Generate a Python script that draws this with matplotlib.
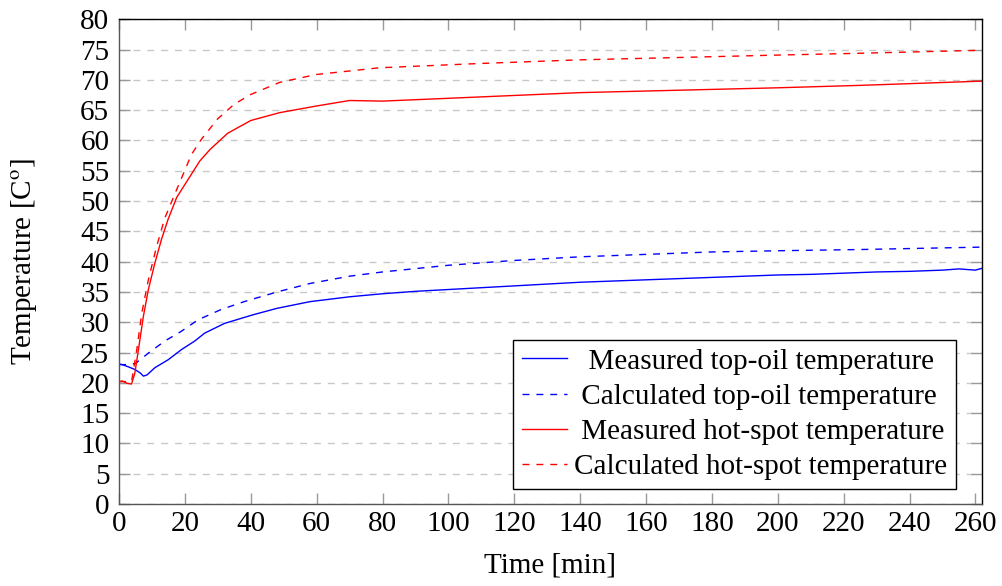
import numpy as np
import matplotlib.pyplot as plt

plt.rcParams['font.family'] = ['Liberation Serif', 'DejaVu Serif']
plt.rcParams['mathtext.fontset'] = 'stix'

# measured top-oil temperature
t_mto = [0, 1, 3, 4.8, 6.5, 7.4, 8.5, 10.9, 14.9, 19, 23, 26, 32, 40.5, 48, 58, 70, 80, 90, 100,
         110, 120, 130, 140, 150, 160, 170, 180, 190, 200, 210, 220, 230, 240, 250, 255, 260, 262]
T_mto = [23.1, 23.0, 22.6, 22.2, 21.6, 21.1, 21.3, 22.5, 23.8, 25.5, 26.9, 28.2, 29.8, 31.2, 32.3,
         33.4, 34.2, 34.7, 35.1, 35.4, 35.7, 36.0, 36.3, 36.6, 36.8, 37.0, 37.2, 37.4, 37.6, 37.8,
         37.9, 38.1, 38.3, 38.4, 38.6, 38.8, 38.6, 38.9]

# calculated top-oil temperature
t_cto = [0, 2.5, 5, 8.9, 13.9, 18.9, 24, 31, 38, 48, 58, 70, 80, 100, 120, 140, 160,
         180, 200, 225, 262]
T_cto = [23.0, 23.0, 23.2, 24.9, 26.9, 28.5, 30.4, 32.1, 33.4, 35.0, 36.4, 37.6, 38.3,
         39.4, 40.2, 40.8, 41.2, 41.6, 41.8, 42.0, 42.4]

# measured hot-spot temperature
t_mhs = [0, 1, 2.5, 3.8, 4.8, 5.9, 7.4, 8.9, 10.9, 12.9, 14.9, 17.5, 21, 24.5, 27.6, 33, 40,
         48.8, 60, 70, 80, 110, 140, 170, 200, 225, 262]
T_mhs = [20.2, 20.3, 19.9, 19.8, 21.6, 25.5, 31.0, 35.4, 39.8, 43.7, 47.0, 50.6, 53.6, 56.6,
         58.5, 61.2, 63.3, 64.6, 65.7, 66.6, 66.5, 67.2, 67.9, 68.3, 68.7, 69.1, 69.8]

# calculated hot-spot temperature
t_chs = [0, 3.8, 5.4, 6.9, 8.9, 11.4, 13.9, 17.5, 22, 25, 30, 35, 40, 48.8, 60, 79, 109, 139,
         170, 200, 225, 262]
T_chs = [20.2, 20.2, 25.5, 31.5, 37.0, 42.5, 47.2, 51.9, 57.7, 60.2, 63.6, 66.0, 67.6, 69.6,
         70.9, 72.0, 72.7, 73.3, 73.7, 74.1, 74.4, 74.9]

labels = ['Measured top-oil temperature', 'Calculated top-oil temperature',
          'Measured hot-spot temperature', 'Calculated hot-spot temperature']

fs = 21
fig = plt.figure(figsize=(10.02, 5.86), dpi=100)
ax = fig.add_axes([0.1188, 0.140, 0.8612, 0.827])

ax.plot(t_mto, T_mto, color='blue', lw=1.0, label=labels[0])
ax.plot(t_cto, T_cto, color='blue', lw=1.0, ls=(0, (5, 5)), label=labels[1])
ax.plot(t_mhs, T_mhs, color='red', lw=1.0, label=labels[2])
ax.plot(t_chs, T_chs, color='red', lw=1.0, ls=(0, (5, 5)), label=labels[3])

ax.set_xlim(0, 262)
ax.set_ylim(0, 80)
ax.set_xticks(np.arange(0, 261, 20))
ax.set_yticks(np.arange(0, 81, 5))
ax.yaxis.grid(True, color='#c8c8c8', ls=(0, (5, 5)), lw=1.0)
ax.set_axisbelow(True)
ax.tick_params(direction='in', top=True, right=True, length=8, width=1,
               color='#999999', labelsize=fs)
ax.tick_params(axis='y', pad=7)
ax.tick_params(axis='x', pad=5)
for s in ['left', 'bottom']:
    ax.spines[s].set_color('#555555')
for s in ax.spines.values():
    s.set_linewidth(1.0)

ax.set_xlabel('Time [min]', fontsize=fs)
ax.set_ylabel(r'Temperature [C$^{\mathrm{o}}$]', fontsize=fs)
ax.xaxis.set_label_coords(0.5, -0.1)
ax.yaxis.set_label_coords(-0.093, 0.5)

leg = ax.legend(loc='lower right', bbox_to_anchor=(0.970, 0.031), borderaxespad=0,
                fontsize=fs, fancybox=False, edgecolor='black', framealpha=1,
                handlelength=1.55, borderpad=0.3, labelspacing=0.3, handletextpad=0.25)
leg.get_frame().set_linewidth(1.0)

# centre the legend entries like pgfplots does
fig.canvas.draw()
r = fig.canvas.get_renderer()
prop = leg.get_texts()[0].get_fontproperties()
sp = (r.get_text_width_height_descent('a' + ' ' * 10 + 'a', prop, ismath=False)[0]
      - r.get_text_width_height_descent('aa', prop, ismath=False)[0]) / 10
widths = [r.get_text_width_height_descent(s, prop, ismath=False)[0] for s in labels]
for txt, s, w in zip(leg.get_texts(), labels, widths):
    n = int(round((max(widths) - w) / 2 / sp))
    txt.set_text(' ' * n + s)

fig.savefig('out.png', dpi=100)
